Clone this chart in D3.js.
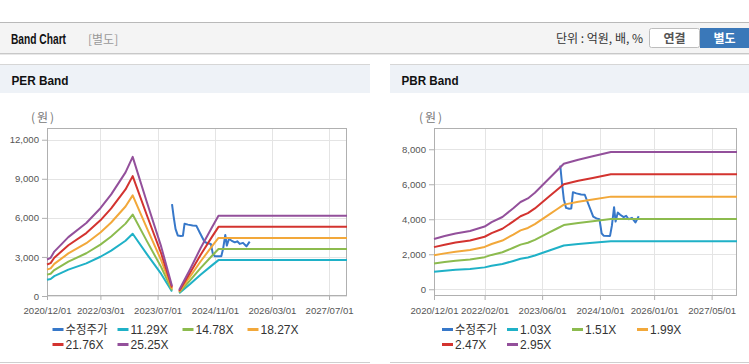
<!DOCTYPE html>
<html><head><meta charset="utf-8">
<script src="https://cdn.jsdelivr.net/npm/d3@7"></script>
<style>
body{margin:0;background:#fff;}
svg{display:block;font-family:"Liberation Sans",Arial,"Noto Sans CJK KR",sans-serif;}
</style>
</head><body><div id="chart"></div>
<script>
// ---------- DATA ----------
const perDates = ["2020-12-01","2021-01-01","2021-02-01","2021-06-01","2021-11-01","2022-03-01","2022-06-01","2022-10-01","2022-12-01","2023-04-01","2023-08-01","2023-11-01","2023-12-01","2024-01-01","2024-04-01","2024-07-01","2024-10-01","2024-12-01","2027-12-01"];
const perBand1 = [1253,1310,1524,2021,2506,3014,3489,4245,4776,3218,1694,339,null,203,903,1637,2314,2755,2755];
const perBand2 = [1641,1714,1995,2646,3281,3946,4567,5557,6252,4212,2217,443,null,266,1182,2143,3030,3606,3606];
const perBand3 = [2028,2119,2466,3270,4056,4878,5645,6870,7728,5207,2741,548,null,329,1462,2649,3745,4458,4458];
const perBand4 = [2415,2524,2938,3895,4831,5810,6724,8182,9204,6202,3264,653,null,392,1741,3155,4461,5309,5309];
const perBand5 = [2803,2929,3409,4520,5606,6742,7802,9494,10681,7196,3788,758,null,455,2020,3661,5176,6161,6161];
const perLabels = ["수정주가","11.29X","14.78X","18.27X","21.76X","25.25X"];

const pbrDates = ["2020-12-01","2021-03-01","2021-06-01","2021-10-01","2022-02-01","2022-04-01","2022-07-01","2022-10-01","2022-12-01","2023-02-01","2023-04-01","2023-08-01","2023-10-01","2023-12-01","2024-04-01","2024-08-01","2025-01-01","2027-12-01"];
const pbrBand1 = [1004,1061,1112,1164,1251,1339,1442,1617,1741,1813,1926,2215,2359,2503,2585,2652,2740,2740];
const pbrBand2 = [1472,1555,1631,1706,1835,1963,2114,2371,2552,2658,2824,3247,3458,3669,3790,3888,4017,4017];
const pbrBand3 = [1940,2050,2149,2249,2418,2587,2786,3124,3363,3502,3721,4279,4557,4836,4995,5124,5293,5293];
const pbrBand4 = [2408,2544,2668,2791,3001,3211,3458,3878,4174,4347,4619,5311,5656,6002,6200,6360,6570,6570];
const pbrBand5 = [2876,3039,3186,3334,3584,3835,4130,4632,4986,5192,5517,6343,6756,7169,7405,7596,7847,7847];
const pbrLabels = ["수정주가","1.03X","1.51X","1.99X","2.47X","2.95X"];

const priceDates = ["2023-11-01","2023-11-15","2023-12-01","2023-12-20","2024-01-15","2024-02-02","2024-02-16","2024-03-16","2024-04-25","2024-05-26","2024-06-23","2024-08-05","2024-09-01","2024-09-27","2024-10-15","2024-11-01","2024-12-25","2025-01-10","2025-01-28","2025-02-10","2025-02-28","2025-03-21","2025-04-19","2025-05-10","2025-05-31","2025-06-28","2025-07-27","2025-08-24"];
const priceValues = [7060,6100,5150,4650,4600,4620,5550,5480,5420,5400,4900,4150,4050,4000,3200,3060,3050,3650,4690,3870,4380,4260,4120,4200,4000,4080,3815,4170];

const perXTicks = ["2020-12-01","2022-03-01","2023-07-01","2024-11-01","2026-03-01","2027-07-01"];
const perYTicks = [0,3000,6000,9000,12000];
const pbrXTicks = ["2020-12-01","2022-02-01","2023-06-01","2024-10-01","2026-01-01","2027-05-01"];
const pbrYTicks = [0,2000,4000,6000,8000];

const seriesColors = ["#3778c9","#1fb1c7","#8cbb4e","#f2a83a","#d3332f","#93509b"];

// ---------- DRAW ----------
const W = 749, H = 364;
const parse = d3.utcParse("%Y-%m-%d");
const fmtTick = d3.utcFormat("%Y/%m/%d");
const svg = d3.select("#chart").append("svg").attr("width", W).attr("height", H);
svg.append("rect").attr("width", W).attr("height", H).attr("fill", "#fff");

// top header bar
svg.append("rect").attr("x",0).attr("y",22).attr("width",W).attr("height",31).attr("fill","#f4f4f4");
svg.append("line").attr("x1",0).attr("x2",W).attr("y1",22.5).attr("y2",22.5).attr("stroke","#b9b9b9");
svg.append("line").attr("x1",0).attr("x2",W).attr("y1",53.5).attr("y2",53.5).attr("stroke","#c8c8c8");
svg.append("line").attr("x1",0).attr("x2",W).attr("y1",54.5).attr("y2",54.5).attr("stroke","#e8e8e8");
svg.append("text").attr("x",11).attr("y",44).attr("font-size",14).attr("font-weight","bold")
  .attr("fill","#111").attr("textLength",55).attr("lengthAdjust","spacingAndGlyphs").text("Band Chart");
svg.append("text").attr("x",88).attr("y",44).attr("font-size",12).attr("fill","#999")
  .attr("font-family","'Noto Sans CJK KR',sans-serif").text("[별도]");
svg.append("text").attr("x",643).attr("y",43).attr("font-size",12).attr("fill","#333").attr("text-anchor","end")
  .attr("font-family","'Noto Sans CJK KR',sans-serif").text("단위 : 억원, 배, %");
svg.append("rect").attr("x",649.5).attr("y",28.5).attr("width",50).attr("height",19).attr("rx",2)
  .attr("fill","#fff").attr("stroke","#bdbdbd");
svg.append("text").attr("x",674.5).attr("y",42.5).attr("text-anchor","middle").attr("font-size",12)
  .attr("font-weight","bold").attr("fill","#555").attr("font-family","'Noto Sans CJK KR',sans-serif").text("연결");
svg.append("rect").attr("x",700).attr("y",28).attr("width",49).attr("height",20).attr("fill","#3a78b9");
svg.append("text").attr("x",724.5).attr("y",42.5).attr("text-anchor","middle").attr("font-size",12)
  .attr("font-weight","bold").attr("fill","#fff").attr("font-family","'Noto Sans CJK KR',sans-serif").text("별도");

function drawPanel(opt) {
  const g = svg.append("g");
  // panel
  g.append("rect").attr("x",opt.px).attr("y",64).attr("width",opt.pw).attr("height",29).attr("fill","#eef2f7");
  g.append("line").attr("x1",opt.px).attr("x2",opt.px+opt.pw).attr("y1",64.5).attr("y2",64.5).attr("stroke","#d6d6d6");
  g.append("line").attr("x1",opt.px).attr("x2",opt.px+opt.pw).attr("y1",362.5).attr("y2",362.5).attr("stroke","#cfcfcf");
  g.append("text").attr("x",opt.px+11.5).attr("y",85).attr("font-size",13).attr("font-weight","bold")
    .attr("fill","#111").attr("textLength",57).attr("lengthAdjust","spacingAndGlyphs").text(opt.title);
  g.append("text").attr("x",opt.ux).attr("y",122).attr("font-size",12).attr("fill","#777")
    .attr("letter-spacing",2).attr("font-family","'Noto Sans CJK KR',sans-serif").text("(원)");

  const x = d3.scaleUtc().domain([parse("2020-12-01"), parse("2027-12-01")]).range([opt.x0, opt.x1]);
  const y = d3.scaleLinear().domain(opt.yDomain).range([opt.y1, opt.y0]);

  // grid
  const grid = g.append("g");
  grid.selectAll("line.v").data(opt.xTicks.map(parse)).join("line")
    .attr("x1", d => Math.round(x(d))+0.5).attr("x2", d => Math.round(x(d))+0.5)
    .attr("y1", opt.y0).attr("y2", opt.y1).attr("stroke","#e4e4e4");
  grid.selectAll("line.h").data(opt.yTicks).join("line")
    .attr("x1", opt.x0).attr("x2", opt.x1)
    .attr("y1", d => Math.round(y(d))+0.5).attr("y2", d => Math.round(y(d))+0.5).attr("stroke","#e4e4e4");

  // axes
  const xAxis = d3.axisBottom(x).tickValues(opt.xTicks.map(parse)).tickFormat(fmtTick).tickSize(4).tickPadding(7);
  const yAxis = d3.axisLeft(y).tickValues(opt.yTicks).tickFormat(d3.format(",")).tickSize(5).tickPadding(3);
  const gx = g.append("g").attr("transform",`translate(0,${opt.y1})`).call(xAxis);
  const gy = g.append("g").attr("transform",`translate(${opt.x0},0)`).call(yAxis);
  [gx, gy].forEach(a => {
    a.select(".domain").remove();
    a.selectAll(".tick line").attr("stroke","#b0b0b0");
    a.selectAll(".tick text").attr("fill","#555").attr("font-size",9.6).attr("font-family","'Liberation Sans',Arial,sans-serif");
  });
  // plot border
  g.append("rect").attr("x",opt.x0+0.5).attr("y",opt.y0+0.5).attr("width",opt.x1-opt.x0-1).attr("height",opt.y1-opt.y0-1)
    .attr("fill","none").attr("stroke","#b0b0b0");

  const line = d3.line().defined(d => d.v != null).x(d => x(d.d)).y(d => y(d.v));
  const plot = g.append("g");
  // price series
  const price = priceDates.map((d,i) => ({d: parse(d), v: priceValues[i]}));
  plot.append("path").datum(price).attr("d", line).attr("fill","none").attr("stroke",seriesColors[0])
    .attr("stroke-width",2).attr("stroke-linejoin","round");
  opt.bands.forEach((arr, k) => {
    const data = opt.dates.map((d,i) => ({d: parse(d), v: arr[i]}));
    plot.append("path").datum(data).attr("d", line).attr("fill","none").attr("stroke",seriesColors[k+1])
      .attr("stroke-width",2).attr("stroke-linejoin","round");
  });

  // legend
  const lg = g.append("g");
  opt.labels.forEach((lab, i) => {
    const col = i < 4 ? i : i - 4, row = i < 4 ? 0 : 1;
    const lx = opt.lx + col * 65, ly = 329.5 + row * 15;
    lg.append("line").attr("x1",lx).attr("x2",lx+11).attr("y1",ly).attr("y2",ly)
      .attr("stroke",seriesColors[i]).attr("stroke-width",3);
    const t = lg.append("text").attr("x",lx+13).attr("y",ly+4.5).attr("font-size",12).attr("fill","#333").text(lab);
    if (i === 0) t.attr("font-family","'Noto Sans CJK KR',sans-serif").attr("textLength",42).attr("lengthAdjust","spacingAndGlyphs");
  });
}

drawPanel({
  title:"PER Band", px:0, pw:370, ux:31, x0:47, x1:347, y0:128, y1:296,
  yDomain:[0, 12900], xTicks:perXTicks, yTicks:perYTicks,
  dates:perDates, bands:[perBand1,perBand2,perBand3,perBand4,perBand5], labels:perLabels, lx:52.5
});
drawPanel({
  title:"PBR Band", px:390, pw:359, ux:419, x0:434, x1:737, y0:128, y1:296,
  yDomain:[-385, 9215], xTicks:pbrXTicks, yTicks:pbrYTicks,
  dates:pbrDates, bands:[pbrBand1,pbrBand2,pbrBand3,pbrBand4,pbrBand5], labels:pbrLabels, lx:442
});
</script>
</body></html>
